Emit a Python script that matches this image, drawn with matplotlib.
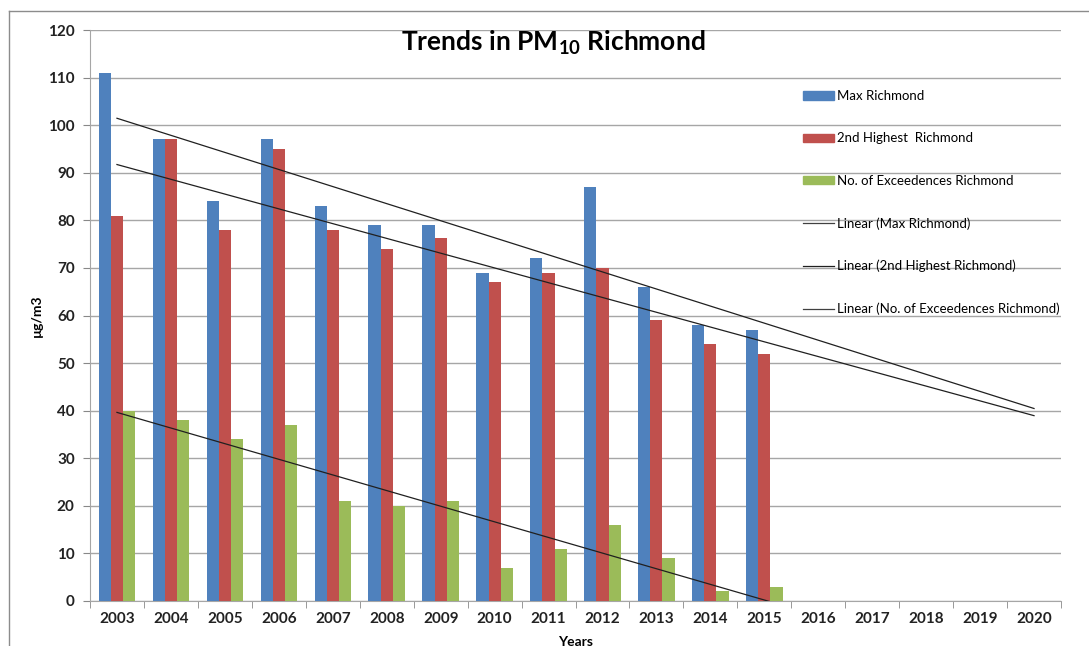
import matplotlib
matplotlib.use("Agg")
import matplotlib.pyplot as plt
import numpy as np
from matplotlib.lines import Line2D
from matplotlib.patches import Patch

plt.rcParams['font.family'] = ['Lato', 'DejaVu Sans']
plt.rcParams['mathtext.fontset'] = 'custom'
plt.rcParams['mathtext.bf'] = 'Lato:bold'
plt.rcParams['mathtext.rm'] = 'Lato'

years = ['2003', '2004', '2005', '2006', '2007', '2008', '2009', '2010', '2011',
         '2012', '2013', '2014', '2015', '2016', '2017', '2018', '2019', '2020']
max_richmond = [111, 97, 84, 97, 83, 79, 79, 69, 72, 87, 66, 58, 57]
second_richmond = [81, 97, 78, 95, 78, 74, 76.3, 67, 69, 70, 59, 54, 52]
exceed_richmond = [40, 38, 34, 37, 21, 20, 21, 7, 11, 16, 9, 2, 3]

W, H = 1089, 646
fig = plt.figure(figsize=(W / 100, H / 100), dpi=100)
ax = fig.add_axes([90 / W, 1 - 601 / H, (1061 - 90) / W, (601 - 30) / H])

blue, red, green = '#4F81BD', '#C0504D', '#9BBB59'
n = len(max_richmond)
x = np.arange(n)
bw = 0.225
ax.bar(x - bw, max_richmond, bw, color=blue, zorder=3)
ax.bar(x, second_richmond, bw, color=red, zorder=3)
ax.bar(x + bw, exceed_richmond, bw, color=green, zorder=3)

# Linear trendlines (Excel style, forecast forward to 2020)
xt = np.arange(len(years))
for ser in (max_richmond, second_richmond, exceed_richmond):
    k, b = np.polyfit(x, ser, 1)
    ax.plot(xt, k * xt + b, color='#202020', lw=0.9, zorder=4)

ax.set_xlim(-0.5, len(years) - 0.5)
ax.set_ylim(0, 120)
ax.set_yticks(np.arange(0, 121, 10))
ax.set_xticks(xt)
ax.set_xticklabels(years)
ax.set_xticks(np.arange(-0.5, len(years), 1), minor=True)
ax.tick_params(axis='x', which='major', length=0, pad=8, labelsize=11)
ax.tick_params(axis='x', which='minor', length=5, color='#888888', direction='out')
ax.tick_params(axis='y', length=5, color='#888888', pad=6, labelsize=11)
for lab in ax.get_xticklabels() + ax.get_yticklabels():
    lab.set_fontweight('bold')
    lab.set_color('#222222')

ax.grid(axis='y', color='#a6a6a6', lw=1, zorder=0)
for s in ('top', 'right'):
    ax.spines[s].set_visible(False)
ax.spines['left'].set_color('#a6a6a6')
ax.spines['bottom'].set_color('#a6a6a6')

ax.set_xlabel('Years', fontsize=10, fontweight='bold', labelpad=7)
ax.set_ylabel('µg/m3', fontsize=10, fontweight='bold', labelpad=4)

fig.text(553 / W, 1 - 43 / H, r'Trends in PM$_{\mathbf{10}}$ Richmond',
         fontsize=19, fontweight='bold', ha='center', va='center')

handles = [Patch(color=blue), Patch(color=red), Patch(color=green),
           Line2D([], [], color='#404040', lw=0.9),
           Line2D([], [], color='#202020', lw=0.9),
           Line2D([], [], color='#404040', lw=0.9)]
labels = ['Max Richmond', '2nd Highest  Richmond', 'No. of Exceedences Richmond',
          'Linear (Max Richmond)', 'Linear (2nd Highest Richmond)',
          'Linear (No. of Exceedences Richmond)']
fig.legend(handles, labels, loc='upper left',
           bbox_to_anchor=(803 / W, 1 - 90 / H), frameon=False, fontsize=9.5,
           labelspacing=2.3, handlelength=2.35, handleheight=0.6,
           handletextpad=0.2, borderpad=0, borderaxespad=0)

# outer chart frame
fig.add_artist(Line2D([9 / W, 1], [1 - 11 / H, 1 - 11 / H], color='#8c8c8c', lw=1))
fig.add_artist(Line2D([9 / W, 9 / W], [0, 1 - 11 / H], color='#8c8c8c', lw=1))

fig.savefig('out.png', dpi=100)
